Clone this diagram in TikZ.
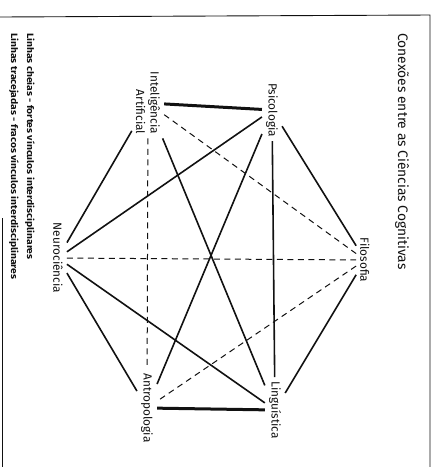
\documentclass[tikz,border=0pt]{standalone}
\usepackage{fontspec}
\setmainfont{Fira Sans}
\newfontfamily\legfont[FakeStretch=1.12]{Fira Sans}
\usetikzlibrary{positioning}
\definecolor{inkblack}{HTML}{111111}

\begin{document}
\begin{tikzpicture}[
  x=1pt, y=-1pt,
  campo/.style={rotate=-90, align=right, inner sep=4pt, text=inkblack,
                font=\fontsize{11.8}{14.5}\selectfont},
  titulo/.style={rotate=-90, anchor=west, inner sep=0pt, text=inkblack,
                 font=\fontsize{13.8}{16}\selectfont},
  legenda/.style={rotate=-90, anchor=west, inner sep=0pt, text=inkblack,
                  font=\legfont\fontsize{9.2}{11}\selectfont\bfseries},
  forte/.style={inkblack, line width=1.6pt},
  grosso/.style={inkblack, line width=3pt},
  fraco/.style={inkblack, line width=1pt, dash pattern=on 6pt off 4.5pt},
  moldura/.style={inkblack, line width=0.9pt},
]
  \useasboundingbox (0,0) rectangle (437,467);

  % frame of the page
  \draw[moldura] (0,17) -- (430,15) -- (430,467);
  \draw[moldura] (2,218) -- (2,467);

  \node[titulo] (tit) at (402,33) {Conexões entre as Ciências Cognitivas};
  \node[legenda] (leg1) at (30,33) {Linhas cheias - fortes vínculos interdisciplinares};
  \node[legenda] (leg2) at (14,33) {Linhas tracejadas - fracos vínculos interdisciplinares};

  \node[campo] (psi) at (272,110) {Psicologia};
  \node[campo] (ia)  at (148,103) {Inteligência\\Artificial};
  \node[campo] (fil) at (365,260) {Filosofia};
  \node[campo] (neu) at (58,258)  {Neurociência};
  \node[campo] (ant) at (147,408) {Antropologia};
  \node[campo] (lin) at (275,410) {Linguística};

  % strong links
  \draw[grosso] (ia)--(psi);
  \draw[grosso] (ant)--(lin);
  \draw[forte] (psi)--(fil);
  \draw[forte] (psi)--(neu);
  \draw[forte] (psi)--(ant);
  \draw[forte] (psi)--(lin);
  \draw[forte] (ia)--(neu);
  \draw[forte] (ia)--(lin);
  \draw[forte] (neu)--(ant);
  \draw[forte] (neu)--(lin);
  \draw[forte] (fil)--(lin);

  % weak links
  \draw[fraco] (ia)--(fil);
  \draw[fraco] (ia)--(ant);
  \draw[fraco] (neu)--(fil);
  \draw[fraco] (fil)--(ant);
\end{tikzpicture}
\end{document}
